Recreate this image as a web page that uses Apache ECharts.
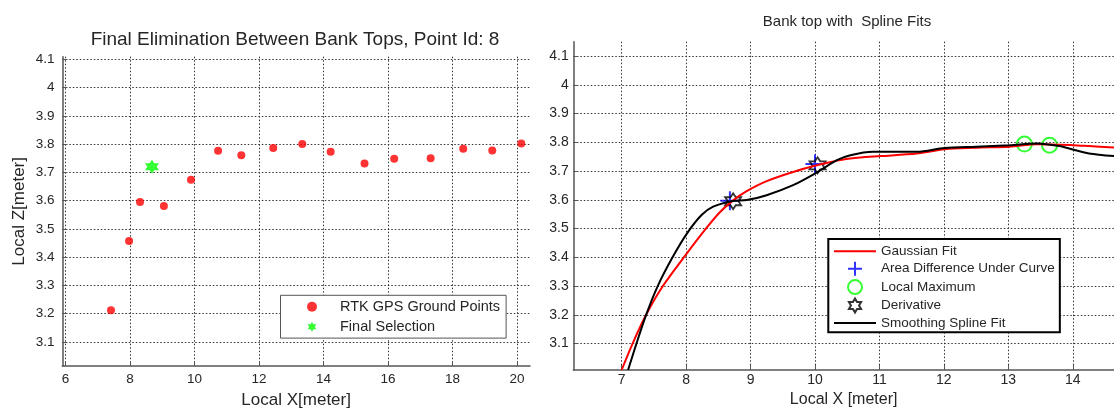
<!DOCTYPE html>
<html>
<head>
<meta charset="utf-8">
<script src="https://cdn.jsdelivr.net/npm/echarts@6/dist/echarts.min.js"></script>
<style>
  html, body { margin: 0; padding: 0; background: #fff; }
  #chart { width: 1114px; height: 409px; }
</style>
</head>
<body>
<div id="chart"></div>
<script>
// ---- Left panel: surveyed bank-top candidates ----
const groundX = [7.41, 7.97, 8.31, 9.05, 9.89, 10.73, 11.45, 12.44, 13.34, 14.22, 15.27, 16.19, 17.32, 18.33, 19.23, 20.13];
const groundZ = [3.212, 3.457, 3.595, 3.581, 3.674, 3.776, 3.760, 3.786, 3.800, 3.773, 3.731, 3.748, 3.750, 3.783, 3.777, 3.802];
const finalX = [8.68];
const finalZ = [3.72];

// ---- Right panel: fitted profiles and detected bank tops ----
const gaussX = [7.00, 7.17, 7.38, 7.64, 8.00, 8.32, 8.52, 8.73, 8.94, 9.25, 9.66, 10.03, 10.44, 10.70, 11.02, 11.58, 12.01, 12.50, 13.02, 13.45, 14.00, 14.25, 14.64];
const gaussZ = [3.008, 3.100, 3.200, 3.300, 3.410, 3.503, 3.556, 3.598, 3.630, 3.665, 3.697, 3.720, 3.740, 3.747, 3.752, 3.761, 3.776, 3.781, 3.785, 3.793, 3.790, 3.787, 3.782];
const splineX = [7.10, 7.23, 7.38, 7.56, 7.79, 8.02, 8.24, 8.42, 8.72, 8.94, 9.25, 9.66, 10.02, 10.34, 10.55, 10.90, 11.58, 12.01, 12.50, 13.02, 13.45, 13.79, 14.00, 14.25, 14.64];
const splineZ = [3.008, 3.100, 3.200, 3.300, 3.400, 3.485, 3.547, 3.576, 3.596, 3.599, 3.616, 3.651, 3.694, 3.738, 3.755, 3.767, 3.767, 3.780, 3.785, 3.790, 3.796, 3.787, 3.775, 3.761, 3.752];
const areaX = [8.68, 10.00];
const areaZ = [3.597, 3.725];
const localMaxX = [13.25, 13.64];
const localMaxZ = [3.794, 3.790];
const derivX = [8.73, 10.04];
const derivZ = [3.595, 3.720];

// ---- Tick labels ----
const leftXTicks = [6, 8, 10, 12, 14, 16, 18, 20];
const rightXTicks = [7, 8, 9, 10, 11, 12, 13, 14];
const zTicks = [3.1, 3.2, 3.3, 3.4, 3.5, 3.6, 3.7, 3.8, 3.9, 4, 4.1];

const FONT = '"Liberation Sans", Arial, Helvetica, sans-serif';
const TEXT = '#262626';
const zip = (xs, ys) => xs.map((x, i) => [x, ys[i]]);

// six-pointed star outline (hexagram) and plus sign
const HEXAGRAM = 'path://M0,-10L2.887,-5L8.66,-5L5.774,0L8.66,5L2.887,5L0,10L-2.887,5L-8.66,5L-5.774,0L-8.66,-5L-2.887,-5Z';
const PLUS = 'path://M-10,0L10,0M0,-10L0,10';

const gridLine = { show: true, lineStyle: { color: '#333', width: 1, type: [1.5, 2] } };
const axisLineStyle = { show: true, onZero: false, lineStyle: { color: '#555', width: 1.5 } };

function xAxisDef(grid, min, max, ticks, name, nameSize, nameGap, labelSize, labelMargin) {
  return {
    gridIndex: grid, type: 'value', min: min, max: max,
    name: name, nameLocation: 'middle', nameGap: nameGap,
    nameTextStyle: { fontFamily: FONT, fontSize: nameSize, color: TEXT },
    axisLine: axisLineStyle,
    axisTick: { show: true, inside: true, length: 5, customValues: ticks, lineStyle: { color: '#555' } },
    axisLabel: { customValues: ticks, margin: labelMargin, fontFamily: FONT, fontSize: labelSize, color: TEXT },
    splitLine: gridLine
  };
}
function yAxisDef(grid, min, max, ticks, name, nameGap, labelSize, labelMargin) {
  return {
    gridIndex: grid, type: 'value', min: min, max: max,
    name: name, nameLocation: 'middle', nameGap: nameGap,
    nameTextStyle: { fontFamily: FONT, fontSize: 17, color: TEXT },
    axisLine: axisLineStyle,
    axisTick: { show: true, inside: true, length: 5, customValues: ticks, lineStyle: { color: '#555' } },
    axisLabel: { customValues: ticks, margin: labelMargin, fontFamily: FONT, fontSize: labelSize, color: TEXT },
    splitLine: gridLine
  };
}

// legend entries for fitted curves show only the line sample
const lineOnly = { color: 'transparent', borderColor: 'transparent', borderWidth: 0 };

const chart = echarts.init(document.getElementById('chart'), null, { renderer: 'canvas' });
chart.setOption({
  animation: false,
  backgroundColor: '#fff',
  title: [
    { text: 'Final Elimination Between Bank Tops, Point Id: 8', left: 295, top: 30, textAlign: 'center', padding: 0,
      textStyle: { fontFamily: FONT, fontSize: 19, fontWeight: 'normal', color: TEXT } },
    { text: 'Bank top with  Spline Fits', left: 847, top: 14, textAlign: 'center', padding: 0,
      textStyle: { fontFamily: FONT, fontSize: 15, fontWeight: 'normal', color: TEXT } }
  ],
  grid: [
    { left: 62.3, top: 56.7, width: 467.7, height: 309.3, containLabel: false, outerBoundsMode: 'none' },
    { left: 573.3, top: 41.7, width: 540.7, height: 328.3, containLabel: false, outerBoundsMode: 'none' }
  ],
  xAxis: [
    xAxisDef(0, 5.9, 20.4, leftXTicks, 'Local X[meter]', 17, 23, 13.5, 6.5),
    xAxisDef(1, 6.25, 14.64, rightXTicks, 'Local X [meter]', 16, 22, 14, 3)
  ],
  yAxis: [
    yAxisDef(0, 3.015, 4.109, zTicks, 'Local Z[meter]', 34.5, 13.5, 7.7),
    yAxisDef(1, 3.008, 4.15, zTicks, '', 0, 14, 4.5)
  ],
  legend: [
    {
      data: ['RTK GPS Ground Points', 'Final Selection'],
      orient: 'vertical', left: 280.5, top: 295.3,
      padding: [3.4, 6, 3.4, 26.5],
      itemWidth: 46, itemHeight: 10, itemGap: 4,
      borderColor: '#555', borderWidth: 1, backgroundColor: '#fff',
      selectedMode: false,
      textStyle: { fontFamily: FONT, fontSize: 14.5, lineHeight: 16, color: TEXT }
    },
    {
      data: [
        { name: 'Gaussian Fit', itemStyle: lineOnly },
        'Area Difference Under Curve',
        'Local Maximum',
        'Derivative',
        { name: 'Smoothing Spline Fit', itemStyle: lineOnly }
      ],
      orient: 'vertical', left: 828.3, top: 239,
      padding: [5.3, 5, 2.4, 4.7],
      itemWidth: 42, itemHeight: 14, itemGap: 2.4,
      borderColor: '#000', borderWidth: 2, backgroundColor: '#fff',
      selectedMode: false,
      textStyle: { fontFamily: FONT, fontSize: 13.5, lineHeight: 14, color: TEXT }
    }
  ],
  series: [
    { type: 'scatter', name: 'RTK GPS Ground Points', xAxisIndex: 0, yAxisIndex: 0,
      data: zip(groundX, groundZ), symbol: 'circle', symbolSize: 8,
      itemStyle: { color: '#ff0000' }, emphasis: { disabled: true } },
    { type: 'scatter', name: 'Final Selection', xAxisIndex: 0, yAxisIndex: 0,
      data: zip(finalX, finalZ), symbol: HEXAGRAM, symbolSize: 14,
      itemStyle: { color: '#00ff00' }, emphasis: { disabled: true } },

    { type: 'line', name: 'Gaussian Fit', xAxisIndex: 1, yAxisIndex: 1,
      data: zip(gaussX, gaussZ), symbol: 'none', smooth: 0.3,
      lineStyle: { color: '#ff0000', width: 2 }, itemStyle: { color: '#ff0000' }, emphasis: { disabled: true } },
    { type: 'scatter', name: 'Area Difference Under Curve', xAxisIndex: 1, yAxisIndex: 1,
      data: zip(areaX, areaZ), symbol: PLUS, symbolSize: 19,
      itemStyle: { color: 'transparent', borderColor: '#0000ff', borderWidth: 2 }, emphasis: { disabled: true } },
    { type: 'scatter', name: 'Local Maximum', xAxisIndex: 1, yAxisIndex: 1,
      data: zip(localMaxX, localMaxZ), symbol: 'circle', symbolSize: 15,
      itemStyle: { color: 'transparent', borderColor: '#00ff00', borderWidth: 2 }, emphasis: { disabled: true } },
    { type: 'scatter', name: 'Derivative', xAxisIndex: 1, yAxisIndex: 1,
      data: zip(derivX, derivZ), symbol: HEXAGRAM, symbolSize: 16,
      itemStyle: { color: 'transparent', borderColor: '#000', borderWidth: 1.8 }, emphasis: { disabled: true } },
    { type: 'line', name: 'Smoothing Spline Fit', xAxisIndex: 1, yAxisIndex: 1,
      data: zip(splineX, splineZ), symbol: 'none', smooth: 0.3,
      lineStyle: { color: '#000', width: 2 }, itemStyle: { color: '#000' }, emphasis: { disabled: true } }
  ]
});
</script>
</body>
</html>
